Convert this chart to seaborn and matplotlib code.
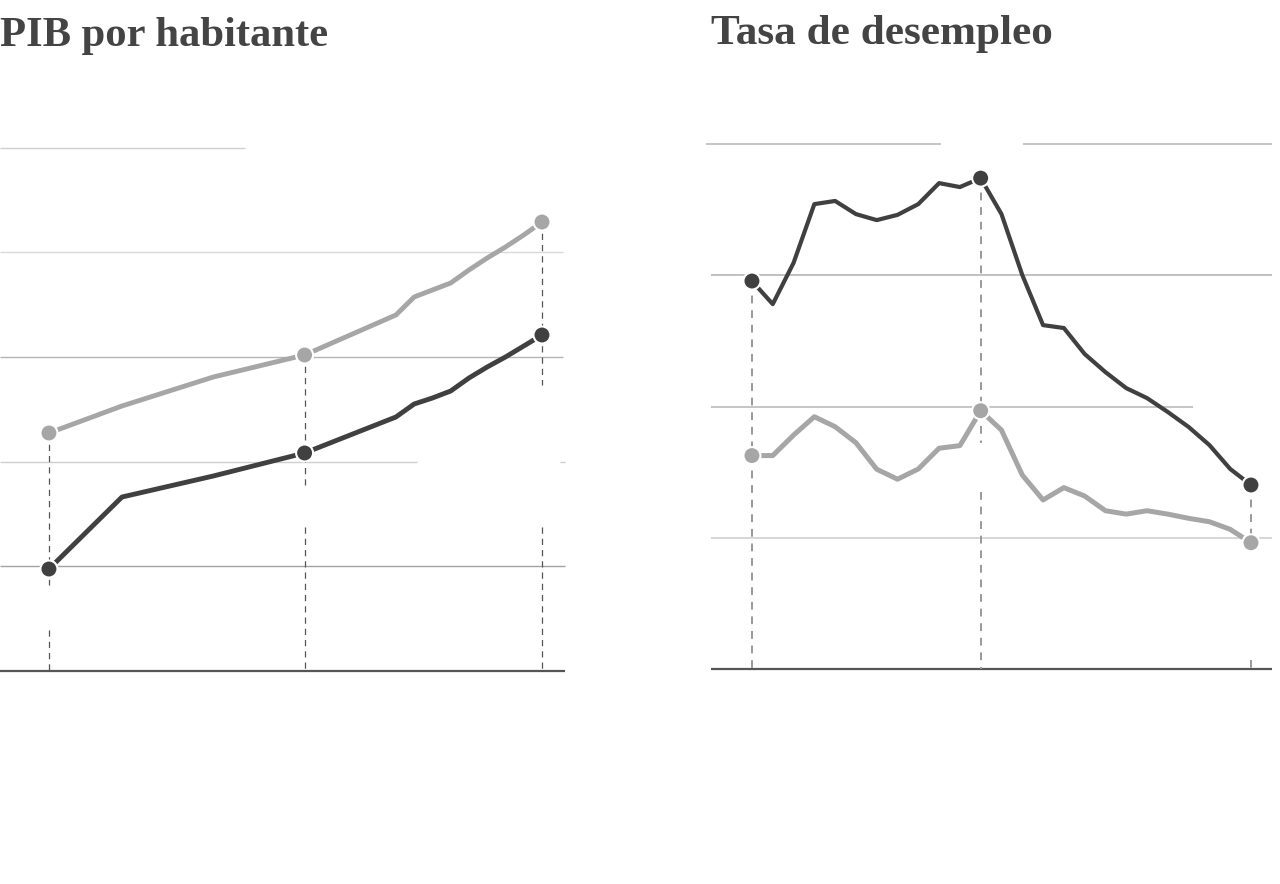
import matplotlib
matplotlib.use("Agg")
import matplotlib.pyplot as plt
import seaborn as sns
import pandas as pd

# ---------------- data ----------------
title_pib = "PIB por habitante"
title_des = "Tasa de desempleo"

pib_years = [1990, 1994, 1999, 2004, 2009, 2010, 2011, 2012, 2013, 2014, 2015, 2016, 2017]
pib_dark = [4856, 8301, 9306, 10407, 12129, 12751, 13038, 13373, 13995, 14522, 15000, 15526, 16053]
pib_gray = [11364, 12656, 14043, 15096, 17010, 17871, 18206, 18541, 19163, 19737, 20263, 20837, 21459]
pib_grid = [5000, 10000, 15000, 20000, 25000]
pib_marked = [1990, 2004, 2017]

des_years = list(range(1993, 2018))
des_dark = [14.78, 13.90, 15.47, 17.71, 17.83, 17.33, 17.10, 17.30, 17.71, 18.51, 18.36, 18.70,
            17.33, 15.01, 13.10, 12.99, 12.00, 11.31, 10.70, 10.32, 9.79, 9.22, 8.53, 7.62, 7.01]
des_gray = [8.13, 8.13, 8.91, 9.61, 9.23, 8.62, 7.61, 7.23, 7.62, 8.41, 8.51, 9.84,
            9.10, 7.39, 6.44, 6.91, 6.59, 6.03, 5.90, 6.03, 5.90, 5.74, 5.61, 5.32, 4.81]
des_grid = [5, 10, 15, 20]
des_marked = [1993, 2004, 2017]

series_names = ["serie oscura", "serie clara"]

# ---------------- style ----------------
DARK = "#404040"
GRAY = "#a6a6a6"
sns.set_theme(style="white")
plt.rcParams["font.family"] = ["Liberation Serif", "DejaVu Serif"]

W, H = 1280, 884
fig = plt.figure(figsize=(W / 100, H / 100), dpi=100)
fig.patch.set_facecolor("white")


def px_axes(x0, x1, y0, y1):
    return fig.add_axes([x0 / W, 1 - y1 / H, (x1 - x0) / W, (y1 - y0) / H])


def long_df(years, dark, gray):
    return pd.DataFrame({
        "año": years * 2,
        "valor": dark + gray,
        "serie": [series_names[0]] * len(years) + [series_names[1]] * len(years),
    })


def hseg(ax, y, x0, x1, color, lw=1.0):
    ax.plot([x0, x1], [y, y], transform=ax.get_yaxis_transform(), color=color,
            lw=lw, clip_on=False, zorder=1, solid_capstyle="butt")


def vseg(ax, x, y0, y1, color, lw, dash):
    ax.plot([x, x], [y0, y1], color=color, lw=lw, linestyle=(0, dash),
            clip_on=False, zorder=2)


# ---------------- left panel ----------------
ax1 = px_axes(0, 565, 148, 670.5)
ax1.set_xlim(1987.32, 2018.26)
ax1.set_ylim(0, 25000)

grid_extent_left = {25000: [(0, 0.434)], 20000: [(0, 0.996)], 15000: [(0, 0.996)],
                    10000: [(0, 0.738), (0.991, 1.0)], 5000: [(0, 1.0)]}
grid_color_left = {25000: "#cfcfcf", 20000: "#d9d9d9", 15000: "#b5b5b5", 10000: "#cfcfcf", 5000: "#a3a3a3"}
for g in pib_grid:
    for a, b in grid_extent_left[g]:
        hseg(ax1, g, a, b, grid_color_left[g], 1.0)
hseg(ax1, 0, 0, 1.0, "#555555", 1.6)

dash_l = (5, 4)
gr = dict(zip(pib_years, pib_gray))
vseg(ax1, 1990, gr[1990], 4091, "#555555", 0.9, dash_l)
vseg(ax1, 1990, 1938, 0, "#555555", 0.9, dash_l)
vseg(ax1, 2004, gr[2004], 8780, "#555555", 0.9, dash_l)
vseg(ax1, 2004, 6866, 0, "#555555", 0.9, dash_l)
vseg(ax1, 2017, gr[2017], 13660, "#555555", 0.9, dash_l)
vseg(ax1, 2017, 6866, 0, "#555555", 0.9, dash_l)

df1 = long_df(pib_years, pib_dark, pib_gray)
sns.lineplot(data=df1, x="año", y="valor", hue="serie", palette=[DARK, GRAY],
             linewidth=3.5, legend=False, ax=ax1, zorder=3, estimator=None)
m1 = df1[df1["año"].isin(pib_marked)]
sns.scatterplot(data=m1, x="año", y="valor", hue="serie", palette=[DARK, GRAY],
                s=150, edgecolor="white", linewidth=1.5, legend=False, ax=ax1, zorder=4,
                clip_on=False)
ax1.axis("off")

# ---------------- right panel ----------------
ax2 = px_axes(706, 1272, 144, 669)
ax2.set_xlim(1990.79, 2018.01)
ax2.set_ylim(0, 20)

grid_extent_right = {20: [(0, 0.415), (0.560, 1.0)], 15: [(0.009, 1.0)],
                     10: [(0.009, 0.860)], 5: [(0.009, 1.0)]}
grid_color_right = {20: "#b5b5b5", 15: "#b0b0b0", 10: "#b5b5b5", 5: "#cccccc"}
for g in des_grid:
    for a, b in grid_extent_right[g]:
        hseg(ax2, g, a, b, grid_color_right[g], 1.1)
hseg(ax2, 0, 0.009, 1.0, "#555555", 1.6)

dash_r = (4, 3.5)
dd = dict(zip(des_years, des_dark))
dg = dict(zip(des_years, des_gray))
vseg(ax2, 1993, dd[1993], 0, "#999999", 1.4, dash_r)
vseg(ax2, 2004, dd[2004], 8.61, "#999999", 1.4, dash_r)
vseg(ax2, 2004, 6.74, 0, "#999999", 1.4, dash_r)
vseg(ax2, 2017, dd[2017], dg[2017], "#999999", 1.4, dash_r)
vseg(ax2, 2017, 0.34, 0, "#999999", 1.4, dash_r)

df2 = long_df(des_years, des_dark, des_gray)
for name, col, lw in [(series_names[1], GRAY, 3.6), (series_names[0], DARK, 3.0)]:
    sub = df2[df2["serie"] == name]
    sns.lineplot(data=sub, x="año", y="valor", color=col, linewidth=lw,
                 legend=False, ax=ax2, zorder=3, estimator=None)
m2 = df2[df2["año"].isin(des_marked)]
sns.scatterplot(data=m2, x="año", y="valor", hue="serie", palette=[DARK, GRAY],
                s=150, edgecolor="white", linewidth=1.5, legend=False, ax=ax2, zorder=4,
                clip_on=False)
ax2.axis("off")

# ---------------- titles ----------------
def title(x, baseline, text, width_px):
    t = fig.text(x / W, 1 - baseline / H, text, fontsize=30, fontweight="bold",
                 color="#444444", va="baseline", ha="left")
    fig.canvas.draw()
    w = t.get_window_extent().width
    t.set_fontsize(30 * width_px / w)
    return t


title(0, 46, title_pib, 328)
title(711, 44, title_des, 342)

fig.savefig("out.png", dpi=100, facecolor="white")
